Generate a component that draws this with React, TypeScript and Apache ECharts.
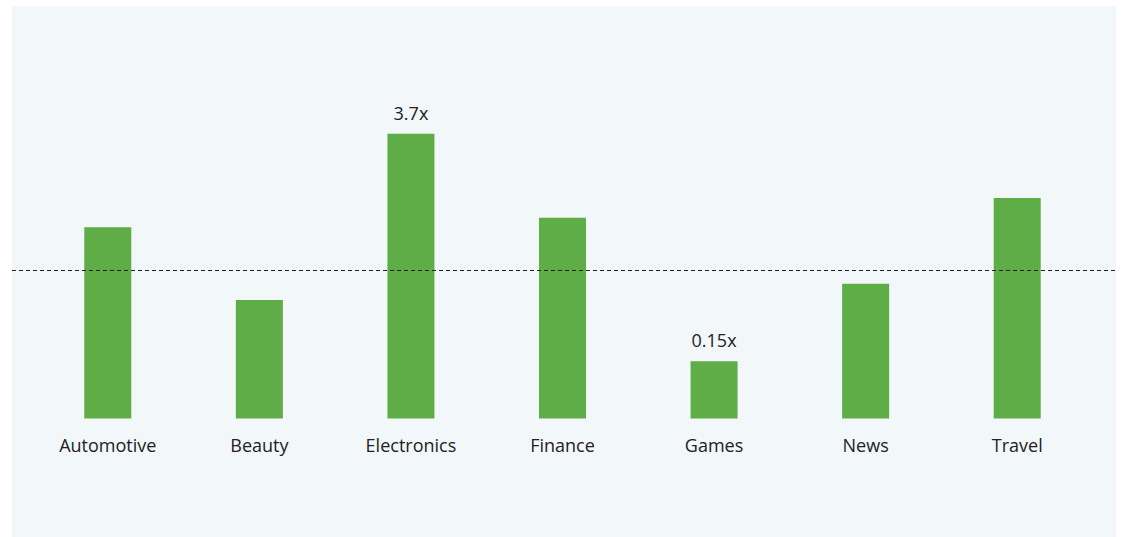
import React, { useEffect, useRef } from "react";
import * as echarts from "echarts";

const categories = ["Automotive", "Beauty", "Electronics", "Finance", "Games", "News", "Travel"];
// multipliers vs. the average (1x); bar heights follow a square-root scale
const multipliers = [1.67, 0.64, 3.7, 1.84, 0.15, 0.83, 2.22];
const shownLabels = ["", "", "3.7x", "", "0.15x", "", ""];
const referenceLevel = 1;

export default function App() {
  const ref = useRef<HTMLDivElement>(null);
  useEffect(() => {
    const chart = echarts.init(ref.current!, null, { renderer: "svg" });
    const font = "'Open Sans', Lato, sans-serif";
    chart.setOption({
      animation: false,
      graphic: [
        {
          type: "rect",
          shape: { x: 12, y: 6, width: 1104, height: 531 },
          style: { fill: "#f2f7fa" },
          z: -10,
          silent: true,
        },
      ],
      grid: [
        { left: 32, right: 28, top: 122.5, bottom: 118.5 },
        { left: 12, right: 5, top: 122.5, bottom: 118.5 },
      ],
      xAxis: [
        {
          type: "category",
          gridIndex: 0,
          data: categories,
          axisLine: { show: false },
          axisTick: { show: false },
          axisLabel: { color: "#222", fontSize: 18, fontFamily: font, margin: 17 },
        },
        { type: "value", gridIndex: 1, min: 0, max: 1, show: false },
      ],
      yAxis: [
        { type: "value", gridIndex: 0, min: 0, max: 2, show: false },
        { type: "value", gridIndex: 1, min: 0, max: 2, show: false },
      ],
      series: [
        {
          type: "bar",
          xAxisIndex: 0,
          yAxisIndex: 0,
          barWidth: 47,
          itemStyle: { color: "#5fad46" },
          data: multipliers.map((m, i) => ({
            value: Math.sqrt(m),
            label: {
              show: shownLabels[i] !== "",
              position: "top",
              distance: 12,
              formatter: shownLabels[i],
              color: "#222",
              fontSize: 18,
              fontFamily: font,
            },
          })),
          z: 2,
        },
        {
          type: "line",
          xAxisIndex: 1,
          yAxisIndex: 1,
          symbol: "none",
          data: [
            [0, Math.sqrt(referenceLevel)],
            [1, Math.sqrt(referenceLevel)],
          ],
          lineStyle: { color: "#222", width: 1, type: [4, 3] },
          z: 5,
          silent: true,
        },
      ],
    });
    return () => chart.dispose();
  }, []);
  return (
    <div
      ref={ref}
      style={{ position: "fixed", left: 0, top: 0, width: 1121, height: 537, background: "#fff" }}
    />
  );
}
